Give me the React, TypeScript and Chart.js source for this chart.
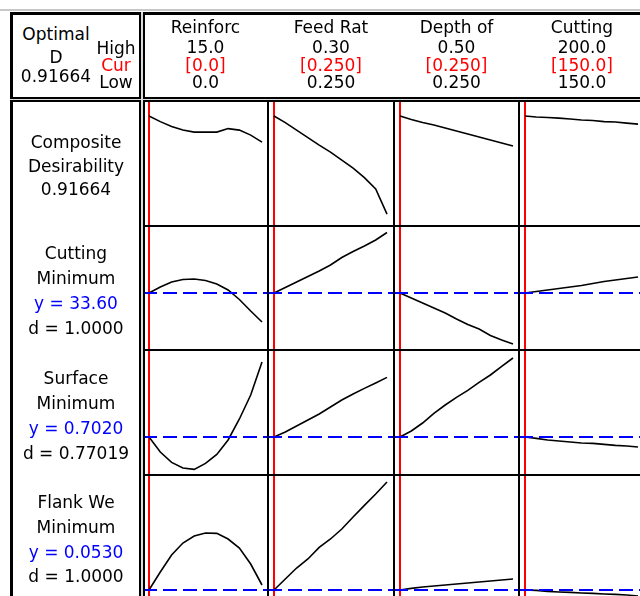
import React, { useEffect, useRef } from "react";
import { Chart, registerables } from "chart.js";

Chart.register(...registerables);

// ---------------- DATA ----------------
const factorNames = ["Reinforc", "Feed Rat", "Depth of", "Cutting"];
const highLabels = ["15.0", "0.30", "0.50", "200.0"];
const curLabels = ["[0.0]", "[0.250]", "[0.250]", "[150.0]"];
const lowLabels = ["0.0", "0.250", "0.250", "150.0"];
const factorLow = [0, 0.25, 0.25, 150];
const factorHigh = [15, 0.3, 0.5, 200];
const factorCur = [0, 0.25, 0.25, 150];

const reinforcX = [0, 1.5, 3, 4.5, 6, 7.5, 9, 10.5, 12, 13.5, 15];
const feedX = [0.25, 0.255, 0.26, 0.265, 0.27, 0.275, 0.28, 0.285, 0.29, 0.295, 0.3];
const depthX = [0.25, 0.275, 0.3, 0.325, 0.35, 0.375, 0.4, 0.425, 0.45, 0.475, 0.5];
const speedX = [150, 155, 160, 165, 170, 175, 180, 185, 190, 195, 200];

// Composite desirability
const desirReinforc = [0.917, 0.864, 0.818, 0.785, 0.766, 0.766, 0.766, 0.799, 0.785, 0.738, 0.673];
const desirFeed = [0.917, 0.855, 0.785, 0.715, 0.645, 0.579, 0.505, 0.43, 0.341, 0.234, 0.0];
const desirDepth = [0.917, 0.883, 0.855, 0.832, 0.804, 0.776, 0.748, 0.72, 0.692, 0.664, 0.636];
const desirSpeed = [0.917, 0.907, 0.902, 0.897, 0.888, 0.879, 0.874, 0.864, 0.86, 0.85, 0.841];

// Cutting force
const forceReinforc = [33.6, 34.2, 34.7, 34.95, 35.0, 34.85, 34.5, 33.9, 32.95, 31.8, 30.7];
const forceFeed = [33.6, 34.15, 34.7, 35.25, 35.8, 36.4, 37.15, 37.75, 38.3, 38.9, 39.65];
const forceDepth = [33.6, 33.1, 32.6, 32.1, 31.6, 31.0, 30.45, 30.0, 29.35, 28.9, 28.5];
const forceSpeed = [33.6, 33.75, 33.9, 34.05, 34.2, 34.35, 34.55, 34.75, 34.9, 35.05, 35.2];

// Surface roughness
const roughReinforc = [0.702, 0.627, 0.575, 0.547, 0.54, 0.57, 0.615, 0.687, 0.792, 0.912, 1.077];
const roughFeed = [0.702, 0.727, 0.757, 0.787, 0.817, 0.852, 0.887, 0.917, 0.945, 0.972, 1.0];
const roughDepth = [0.702, 0.732, 0.772, 0.82, 0.862, 0.9, 0.935, 0.975, 1.012, 1.055, 1.097];
const roughSpeed = [0.702, 0.695, 0.687, 0.682, 0.677, 0.672, 0.67, 0.665, 0.66, 0.657, 0.652];

// Flank wear
const wearReinforc = [0.053, 0.062, 0.0705, 0.0765, 0.08, 0.0815, 0.0813, 0.0785, 0.074, 0.066, 0.0555];
const wearFeed = [0.053, 0.0585, 0.064, 0.0685, 0.0743, 0.0785, 0.0835, 0.0895, 0.0953, 0.101, 0.107];
const wearDepth = [0.053, 0.0538, 0.0545, 0.055, 0.0555, 0.056, 0.0565, 0.057, 0.0575, 0.058, 0.0585];
const wearSpeed = [0.053, 0.0528, 0.0523, 0.052, 0.0518, 0.0515, 0.0513, 0.051, 0.0508, 0.0505, 0.05];

const optimalD = "0.91664";
const responseNames = ["Cutting", "Surface", "Flank We"];
const responseGoals = ["Minimum", "Minimum", "Minimum"];
const predictedLabels = ["y = 33.60", "y = 0.7020", "y = 0.0530"];
const desirLabels = ["d = 1.0000", "d = 0.77019", "d = 1.0000"];
const optimumY: (number | null)[] = [null, 33.6, 0.702, 0.053];
const compositeValue = 0.91664;

const factorX = [reinforcX, feedX, depthX, speedX];
const rowSeries = [
  [desirReinforc, desirFeed, desirDepth, desirSpeed],
  [forceReinforc, forceFeed, forceDepth, forceSpeed],
  [roughReinforc, roughFeed, roughDepth, roughSpeed],
  [wearReinforc, wearFeed, wearDepth, wearSpeed],
];

// ---------------- LAYOUT ----------------
const colX = [143, 268, 394, 519, 645];
const rowY = [100, 225, 349, 474, 600];
const RED_OFFSET = 6;
const SPAN = 113;
// vertical scale per row: reference value, its page y, units per pixel
const rowRef = [
  { v: compositeValue, px: 116, k: 1 / 107 },
  { v: 33.6, px: 293, k: 0.1 },
  { v: 0.702, px: 437, k: 0.005 },
  { v: 0.053, px: 590, k: 0.0005 },
];
const labelCenters = [
  [142, 166, 189],
  [253, 278, 303, 328],
  [378, 403, 428, 453],
  [502, 527, 551.5, 575.5],
];

type PanelProps = {
  left: number; top: number; width: number; height: number;
  xs: number[]; ys: number[];
  xMin: number; xMax: number; yMin: number; yMax: number;
  cur: number; opt: number | null;
};

function Panel(p: PanelProps) {
  const ref = useRef<HTMLCanvasElement>(null);
  useEffect(() => {
    const datasets: any[] = [
      {
        data: [{ x: p.cur, y: p.yMin }, { x: p.cur, y: p.yMax }],
        borderColor: "#ff0000", borderWidth: 2, pointRadius: 0, order: 3,
      },
      {
        data: p.xs.map((x, i) => ({ x, y: p.ys[i] })),
        borderColor: "#000000", borderWidth: 1.6, pointRadius: 0, order: 2,
      },
    ];
    if (p.opt != null) {
      datasets.push({
        data: [{ x: p.xMin, y: p.opt }, { x: p.xMax, y: p.opt }],
        borderColor: "#0000ff", borderWidth: 2, borderDash: [14, 6], pointRadius: 0, order: 1,
      });
    }
    const chart = new Chart(ref.current as HTMLCanvasElement, {
      type: "line",
      data: { datasets },
      options: {
        animation: false,
        responsive: false,
        maintainAspectRatio: false,
        events: [],
        layout: { padding: 0 },
        plugins: { legend: { display: false }, tooltip: { enabled: false } },
        scales: {
          x: { type: "linear", display: false, min: p.xMin, max: p.xMax },
          y: { type: "linear", display: false, min: p.yMin, max: p.yMax },
        },
        elements: { line: { tension: 0 } },
      },
    });
    return () => chart.destroy();
  }, []);
  return (
    <canvas
      ref={ref}
      width={p.width}
      height={p.height}
      style={{ position: "absolute", left: p.left, top: p.top, width: p.width, height: p.height, zIndex: 1 }}
    />
  );
}

function Txt({ x, y, text, color = "#000" }: { x: number; y: number; text: string; color?: string }) {
  return (
    <div
      style={{
        position: "absolute", left: x - 100, top: y - 10, width: 200, height: 20,
        lineHeight: "20px", textAlign: "center", whiteSpace: "nowrap", color, zIndex: 3,
      }}
    >
      {text}
    </div>
  );
}

function Line({ left, top, width, height, color = "#000" }: any) {
  return <div style={{ position: "absolute", left, top, width, height, background: color, zIndex: 2 }} />;
}

export default function App() {
  const panels: any[] = [];
  for (let r = 0; r < 4; r++) {
    for (let c = 0; c < 4; c++) {
      const left = colX[c];
      const width = colX[c + 1] - colX[c];
      const top = rowY[r];
      const height = rowY[r + 1] - rowY[r];
      const kx = (factorHigh[c] - factorLow[c]) / SPAN;
      const xMin = factorLow[c] - RED_OFFSET * kx;
      const xMax = xMin + width * kx;
      const ref = rowRef[r];
      const yMax = ref.v + (ref.px - top) * ref.k;
      const yMin = yMax - height * ref.k;
      panels.push(
        <Panel
          key={`p${r}${c}`}
          left={left} top={top} width={width} height={height}
          xs={factorX[c]} ys={rowSeries[r][c]}
          xMin={xMin} xMax={xMax} yMin={yMin} yMax={yMax}
          cur={factorCur[c]} opt={optimumY[r]}
        />
      );
    }
  }

  const labelTexts: any[] = [];
  const compLines = ["Composite", "Desirability", optimalD];
  compLines.forEach((t, i) => labelTexts.push(<Txt key={`c${i}`} x={76} y={labelCenters[0][i]} text={t} />));
  for (let r = 0; r < 3; r++) {
    const lines = [responseNames[r], responseGoals[r], predictedLabels[r], desirLabels[r]];
    lines.forEach((t, i) =>
      labelTexts.push(
        <Txt key={`l${r}${i}`} x={76} y={labelCenters[r + 1][i]} text={t} color={i === 2 ? "#0000ff" : "#000"} />
      )
    );
  }

  const headerTexts: any[] = [];
  for (let c = 0; c < 4; c++) {
    const cx = (colX[c] + colX[c + 1]) / 2;
    headerTexts.push(<Txt key={`hn${c}`} x={cx} y={27} text={factorNames[c]} />);
    headerTexts.push(<Txt key={`hh${c}`} x={cx} y={47} text={highLabels[c]} />);
    headerTexts.push(<Txt key={`hc${c}`} x={cx} y={64.5} text={curLabels[c]} color="#ff0000" />);
    headerTexts.push(<Txt key={`hl${c}`} x={cx} y={82} text={lowLabels[c]} />);
  }

  return (
    <div
      style={{
        position: "fixed", left: 0, top: 0, width: 640, height: 596, overflow: "hidden",
        background: "#ffffff", fontFamily: '"DejaVu Sans", Verdana, sans-serif', fontSize: 17,
      }}
    >
      <Line left={0} top={9} width={640} height={2} color="#c8c8c8" />
      <div style={{ position: "absolute", left: 10, top: 12, width: 640, height: 600, background: "#dcdcdc" }} />
      {/* header left box */}
      <div style={{
        position: "absolute", left: 10, top: 12, width: 131, height: 87, boxSizing: "border-box",
        background: "#fff", borderTop: "3px solid #000", borderLeft: "3px solid #000",
        borderRight: "2px solid #000", borderBottom: "2px solid #000",
      }} />
      {/* header right box */}
      <div style={{
        position: "absolute", left: 143, top: 12, width: 510, height: 87, boxSizing: "border-box",
        background: "#fff", borderTop: "3px solid #000", borderLeft: "2px solid #000", borderBottom: "2px solid #000",
      }} />
      {/* label column box */}
      <div style={{
        position: "absolute", left: 10, top: 100, width: 131, height: 510, boxSizing: "border-box",
        background: "#fff", borderTop: "2px solid #000", borderLeft: "3px solid #000", borderRight: "2px solid #000",
      }} />
      {/* panel area background */}
      <div style={{ position: "absolute", left: 143, top: 100, width: 510, height: 510, background: "#fff" }} />
      {panels}
      {/* panel grid lines */}
      <Line left={143} top={100} width={510} height={2} />
      <Line left={143} top={100} width={2} height={510} />
      {rowY.slice(1, 4).map((y, i) => (
        <Line key={`hr${i}`} left={143} top={y} width={510} height={2} />
      ))}
      {colX.slice(1, 4).map((x, i) => (
        <Line key={`vr${i}`} left={x - 1} top={100} width={2} height={510} />
      ))}
      {/* header left texts */}
      <Txt x={56} y={33.5} text="Optimal" />
      <Txt x={56} y={56.5} text="D" />
      <Txt x={56} y={75.5} text={optimalD} />
      <Txt x={116} y={47.5} text="High" />
      <Txt x={116} y={64.5} text="Cur" color="#ff0000" />
      <Txt x={116} y={81.5} text="Low" />
      {headerTexts}
      {labelTexts}
    </div>
  );
}
